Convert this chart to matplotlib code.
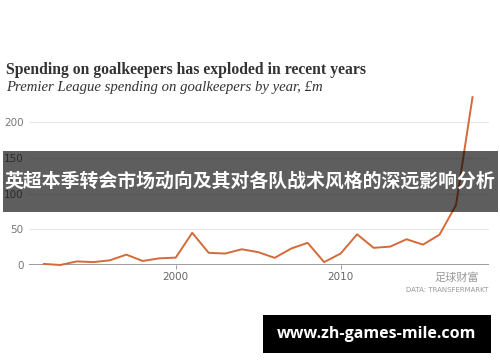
import matplotlib.pyplot as plt
from matplotlib.patches import Rectangle

years = list(range(1992, 2019))
spend = [1.5, 0, 5, 4, 6.5, 14.5, 5.6, 9.3, 10.3, 45, 17, 16, 22, 18, 10,
         23, 31, 4, 16, 43, 24, 25.7, 36, 28.5, 42.5, 84, 235]
yticks = [0, 50, 100, 150, 200]
xticks = [2000, 2010]

title = 'Spending on goalkeepers has exploded in recent years'
subtitle = 'Premier League spending on goalkeepers by year, £m'
banner = '英超本季转会市场动向及其对各队战术风格的深远影响分析'
url = 'www.zh-games-mile.com'

fig = plt.figure(figsize=(5, 3.62), dpi=100)
ax = fig.add_axes([0.058, 0.268, 0.92, 0.4735])

for v in yticks[1:]:
    ax.axhline(v, color='#e8e8e8', lw=0.9, zorder=1)
ax.axhline(0, color='#8a8a8a', lw=1.2, zorder=2)
ax.plot(years, spend, color='#d46a3a', lw=1.4, zorder=3, clip_on=False)

ax.set_xlim(1991.1, 2019)
ax.set_ylim(0, 240)
ax.set_yticks(yticks)
ax.set_xticks(xticks)
ax.tick_params(axis='y', length=0, pad=4, labelsize=7.5, labelcolor='#777777')
ax.tick_params(axis='x', length=3, width=0.6, color='#888888', pad=2,
               labelsize=7.5, labelcolor='#666666')
for s in ax.spines.values():
    s.set_visible(False)

fig.text(0.012, 0.806, title, fontsize=11.3, fontweight='bold',
         family='Liberation Serif', color='#333333', va='center')
fig.text(0.012, 0.758, subtitle, fontsize=10.6, style='italic',
         family='Liberation Serif', color='#333333', va='center')

# watermark + source
fig.text(0.958, 0.232, '足球财富', fontsize=8, color='#9a9a9a', ha='right',
         va='center', family=['Noto Sans CJK SC', 'DejaVu Sans'])
fig.text(0.976, 0.198, 'DATA: TRANSFERMARKT', fontsize=5, color='#999999',
         ha='right', va='center', family='DejaVu Sans Condensed')

# gray banner overlay
fig.patches.append(Rectangle((0.006, 1 - 211.7 / 362), 0.99, 60.7 / 362,
                             transform=fig.transFigure, facecolor='black',
                             lw=0, alpha=0.63, zorder=5))
fig.text(0.5, 1 - 181 / 362, banner, fontsize=13.6, fontweight='bold',
         color='white', ha='center', va='center', zorder=6,
         family=['Noto Sans CJK SC', 'DejaVu Sans'])

# black url box
fig.patches.append(Rectangle((263 / 500, 1 - 353 / 362), 228 / 500, 38 / 362,
                             transform=fig.transFigure, facecolor='black',
                             lw=0, zorder=5))
fig.text(377 / 500, 1 - 334 / 362, url, fontsize=11.5, fontweight='bold',
         color='white', ha='center', va='center', zorder=6, family='Open Sans')

fig.savefig('out.png', dpi=100, facecolor='white')
